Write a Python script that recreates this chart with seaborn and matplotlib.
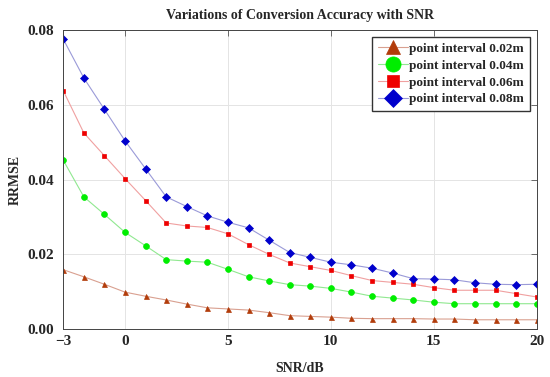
import numpy as np
import pandas as pd
import seaborn as sns
import matplotlib.pyplot as plt

# SNR values on the x axis
snr = list(range(-3, 21))

# RRMSE for each point interval
rrmse_002 = [0.0159, 0.0140, 0.0120, 0.0099, 0.0088, 0.0078, 0.0067, 0.0057, 0.0054, 0.0051,
             0.0044, 0.0036, 0.0034, 0.0032, 0.0029, 0.0028, 0.0028, 0.0028, 0.0027, 0.0027,
             0.0025, 0.0025, 0.0025, 0.0025]
rrmse_004 = [0.0452, 0.0354, 0.0307, 0.0259, 0.0223, 0.0186, 0.0182, 0.0179, 0.0160, 0.0140,
             0.0129, 0.0119, 0.0115, 0.0109, 0.0099, 0.0088, 0.0083, 0.0078, 0.0072, 0.0068,
             0.0068, 0.0068, 0.0068, 0.0068]
rrmse_006 = [0.0638, 0.0525, 0.0464, 0.0403, 0.0344, 0.0284, 0.0276, 0.0272, 0.0255, 0.0226,
             0.0200, 0.0177, 0.0167, 0.0157, 0.0143, 0.0130, 0.0125, 0.0120, 0.0111, 0.0104,
             0.0104, 0.0104, 0.0095, 0.0086]
rrmse_008 = [0.0776, 0.0672, 0.0588, 0.0504, 0.0429, 0.0354, 0.0328, 0.0303, 0.0286, 0.0271,
             0.0238, 0.0205, 0.0192, 0.0179, 0.0172, 0.0163, 0.0150, 0.0135, 0.0134, 0.0132,
             0.0124, 0.0120, 0.0119, 0.0120]

labels = ['point interval 0.02m', 'point interval 0.04m',
          'point interval 0.06m', 'point interval 0.08m']
series = [rrmse_002, rrmse_004, rrmse_006, rrmse_008]
markers = ['^', 'o', 's', 'D']
marker_colors = ['#b23c0a', '#00ee00', '#ee0000', '#0000cc']
line_colors = ['#d9a090', '#90e890', '#f0a0a0', '#9a9ad8']
marker_sizes = [3.6, 4.2, 3.4, 3.6]

sns.set_style('whitegrid')
plt.rcParams['font.family'] = ['Liberation Serif', 'DejaVu Serif']
plt.rcParams['font.weight'] = 'bold'

fig, ax = plt.subplots(figsize=(5.5, 3.77), dpi=100)
fig.subplots_adjust(left=0.115, right=0.976, top=0.92, bottom=0.127)

for vals, lab, mk, mc, lc, ms in zip(series, labels, markers, marker_colors, line_colors, marker_sizes):
    df = pd.DataFrame({'snr': snr, 'rrmse': vals})
    sns.lineplot(data=df, x='snr', y='rrmse', ax=ax, color=lc, linewidth=0.8,
                 marker=mk, markersize=ms, markerfacecolor=mc, markeredgecolor=mc,
                 markeredgewidth=0.5, label=lab)

ax.set_xlim(-3, 20)
ax.set_ylim(0, 0.08)
ax.set_xticks([-3, 0, 5, 10, 15, 20])
ax.set_xticklabels(['\u22123', '0', '5', '10', '15', '20'])
ax.set_yticks([0, 0.02, 0.04, 0.06, 0.08])
ax.set_yticklabels(['0.00', '0.02', '0.04', '0.06', '0.08'])
ax.tick_params(axis='both', labelsize=11, direction='in', length=4, width=0.6,
               top=True, right=True, color='#555555')
ax.tick_params(axis='x', pad=4)
ax.tick_params(axis='y', pad=7)
ax.grid(True, color='#e4e4e4', linewidth=0.7)
for sp in ax.spines.values():
    sp.set_color('#444444')
    sp.set_linewidth(0.7)

ax.set_title('Variations of Conversion Accuracy with SNR', fontsize=10, fontweight='bold', pad=8)
ax.set_xlabel('SNR/dB', fontsize=10, fontweight='bold', labelpad=10)
ax.set_ylabel('RRMSE', fontsize=10, fontweight='bold', labelpad=4)

leg = ax.legend(loc='upper right', fontsize=9.5, markerscale=2.6, frameon=True, fancybox=False,
                edgecolor='#333333', framealpha=1, borderpad=0.45, labelspacing=0.35,
                handlelength=2.3, handletextpad=0.1, borderaxespad=0.5)
leg.get_frame().set_linewidth(1.0)

fig.savefig('out.png', dpi=100)
